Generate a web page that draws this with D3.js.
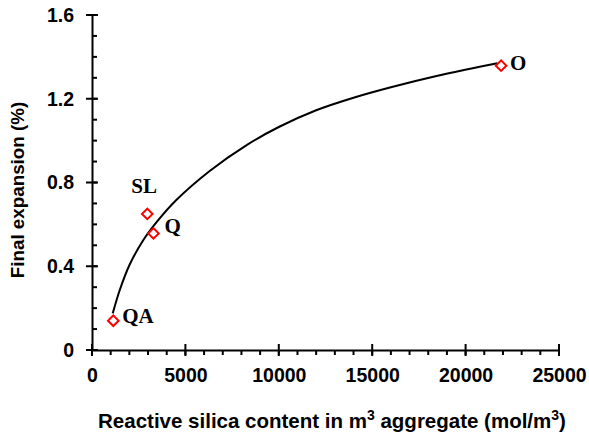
<!DOCTYPE html>
<html>
<head>
<meta charset="utf-8">
<script src="https://cdn.jsdelivr.net/npm/d3@7"></script>
<style>
  body { margin: 0; background: #fff; }
  svg { display: block; }
  .axis path, .tick-mark { stroke: #000; stroke-width: 2px; fill: none; }
  .axis text { font-family: "Liberation Sans", Arial, sans-serif; font-weight: bold; font-size: 19.5px; fill: #000; }
  .title { font-family: "Liberation Sans", Arial, sans-serif; font-weight: bold; fill: #000; }
  .pt-label { font-family: "Liberation Serif", "Times New Roman", serif; font-weight: bold; font-size: 21px; fill: #000; }
</style>
</head>
<body>
<div id="chart"></div>
<script>
// aggregate samples
const names = ['QA', 'SL', 'Q', 'O'];
const silica = [1140, 2960, 3290, 21900];
const expansion = [0.14, 0.65, 0.557, 1.358];

// fitted trend line
const trendX = [1110, 1500, 2000, 2750, 3500, 4500, 6300, 8300, 10000, 12000, 14000, 16000, 18500, 20250, 21700];
const trendY = [0.175, 0.29, 0.405, 0.525, 0.615, 0.715, 0.855, 0.98, 1.065, 1.145, 1.205, 1.255, 1.31, 1.343, 1.37];

const xTicks = [0, 5000, 10000, 15000, 20000, 25000];
const yTicks = [0, 0.4, 0.8, 1.2, 1.6];
const yTickLabels = ['0', '0.4', '0.8', '1.2', '1.6'];
const xMinor = d3.range(0, 25001, 1000);
const yMinor = d3.range(0, 1.61, 0.1);

const width = 589, height = 438;
const plotLeft = 92, plotRight = 559, plotTop = 15, plotBottom = 350;

// label offsets from each marker
const labelOffset = {
  QA: [9, 2],
  SL: [-16, -21],
  Q: [11, 0],
  O: [9, 4]
};

const svg = d3.select('#chart').append('svg')
  .attr('width', width)
  .attr('height', height);

const x = d3.scaleLinear().domain([0, 25000]).range([plotLeft, plotRight]);
const y = d3.scaleLinear().domain([0, 1.6]).range([plotBottom, plotTop]);

// axes give the domain lines and labels
svg.append('g')
  .attr('class', 'axis')
  .attr('transform', 'translate(' + plotLeft + ',0)')
  .call(d3.axisLeft(y).tickValues(yTicks).tickSizeInner(0).tickSizeOuter(0)
    .tickPadding(18).tickFormat((d, i) => yTickLabels[i]));

svg.append('g')
  .attr('class', 'axis')
  .attr('transform', 'translate(0,' + plotBottom + ')')
  .call(d3.axisBottom(x).tickValues(xTicks).tickSizeInner(0).tickSizeOuter(0)
    .tickPadding(18).tickFormat(d3.format('d')));

// tick marks: one path each (this renderer skips <line>s and extra subpaths)
const tickG = svg.append('g');

// y: minor inside, major across the axis
tickG.selectAll('.y-minor')
  .data(yMinor)
  .enter()
  .append('path')
  .attr('class', 'tick-mark y-minor')
  .attr('d', v => 'M' + plotLeft + ',' + y(v) + 'H' + (plotLeft + 5));

tickG.selectAll('.y-major')
  .data(yTicks)
  .enter()
  .append('path')
  .attr('class', 'tick-mark y-major')
  .attr('d', v => 'M' + (plotLeft - 6) + ',' + y(v) + 'H' + (plotLeft + 6));

// x: minor below, major across the axis
tickG.selectAll('.x-minor')
  .data(xMinor)
  .enter()
  .append('path')
  .attr('class', 'tick-mark x-minor')
  .attr('d', v => 'M' + x(v) + ',' + plotBottom + 'V' + (plotBottom + 5));

tickG.selectAll('.x-major')
  .data(xTicks)
  .enter()
  .append('path')
  .attr('class', 'tick-mark x-major')
  .attr('d', v => 'M' + x(v) + ',' + (plotBottom - 6) + 'V' + (plotBottom + 6));

// titles
const xTitle = svg.append('text')
  .attr('class', 'title')
  .attr('font-size', 20.5)
  .attr('x', 332)
  .attr('y', 428)
  .attr('text-anchor', 'middle');
xTitle.append('tspan').text('Reactive silica content in m');
xTitle.append('tspan').attr('dy', -8).attr('font-size', 14).text('3');
xTitle.append('tspan').attr('dy', 8).text(' aggregate (mol/m');
xTitle.append('tspan').attr('dy', -8).attr('font-size', 14).text('3');
xTitle.append('tspan').attr('dy', 8).text(')');

svg.append('text')
  .attr('class', 'title')
  .attr('font-size', 18.8)
  .attr('transform', 'translate(24,190) rotate(-90)')
  .attr('text-anchor', 'middle')
  .text('Final expansion (%)');

// trend line
const trend = trendX.map((d, i) => [d, trendY[i]]);
svg.append('path')
  .datum(trend)
  .attr('fill', 'none')
  .attr('stroke', '#000')
  .attr('stroke-width', 2)
  .attr('d', d3.line().x(d => x(d[0])).y(d => y(d[1])).curve(d3.curveCatmullRom));

// markers
const pts = names.map((n, i) => ({ name: n, x: silica[i], y: expansion[i] }));
const marker = d3.symbol().type(d3.symbolSquare).size(56);

svg.selectAll('.pt')
  .data(pts)
  .enter()
  .append('path')
  .attr('class', 'pt')
  .attr('d', marker)
  .attr('transform', d => 'translate(' + x(d.x) + ',' + y(d.y) + ') rotate(45)')
  .attr('fill', '#fff')
  .attr('stroke', '#f00')
  .attr('stroke-width', 2);

svg.selectAll('.pt-label')
  .data(pts)
  .enter()
  .append('text')
  .attr('class', 'pt-label')
  .attr('x', d => x(d.x) + labelOffset[d.name][0])
  .attr('y', d => y(d.y) + labelOffset[d.name][1])
  .text(d => d.name);
</script>
</body>
</html>
